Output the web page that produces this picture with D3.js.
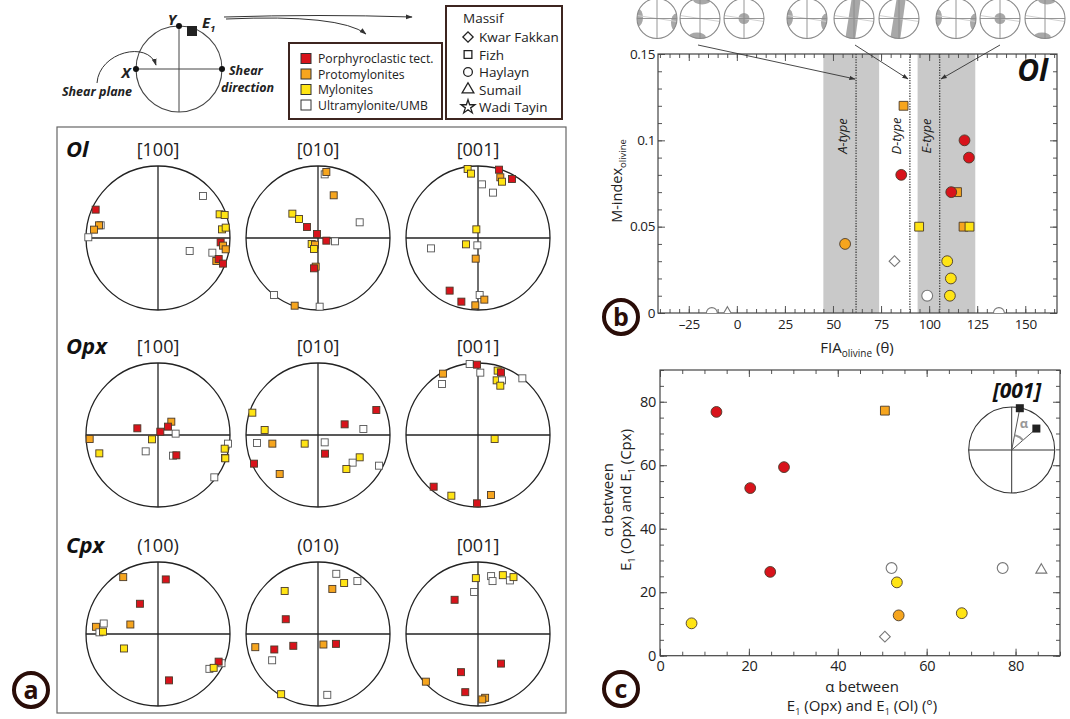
<!DOCTYPE html>
<html><head><meta charset="utf-8">
<script src="https://cdn.jsdelivr.net/npm/d3@7"></script>
<style>body{margin:0;background:#fff}svg{display:block;font-family:"Open Sans","Noto Sans",sans-serif}</style>
</head><body><svg id="fig" width="1070" height="719"></svg>
<script>
// ---------------- DATA ----------------
const textureLabels = ["Porphyroclastic tect.","Protomylonites","Mylonites","Ultramylonite/UMB"];
const textureKeys   = ["P","R","M","U"];
const textureColors = ["#d8131b","#f6a51e","#ffe414","#ffffff"];
const massifLabels  = ["Kwar Fakkan","Fizh","Haylayn","Sumail","Wadi Tayin"];
const massifShapes  = ["diamond","square","circle","triangle","star"];

const minerals = ["Ol","Opx","Cpx"];
const netTitles = [["[100]","[010]","[001]"],["[100]","[010]","[001]"],["(100)","(010)","[001]"]];

// pole figure maxima: [x, y (unit circle), texture]
const ol100 = [[0.625,0.583,"U"],[-0.866,0.394,"P"],[-0.796,0.176,"U"],[-0.819,0.176,"R"],[-0.889,0.116,"R"],[-0.968,0.01,"U"],
  [0.856,0.329,"M"],[0.926,0.319,"M"],[0.889,0.120,"M"],[0.940,0.144,"M"],[0.870,-0.060,"P"],[0.903,-0.106,"R"],[0.940,-0.157,"R"],
  [0.440,-0.181,"U"],[0.755,-0.204,"U"],[0.810,-0.319,"R"],[0.843,-0.292,"P"],[0.903,-0.356,"P"]];
const ol010 = [[0.093,0.884,"U"],[0.116,0.917,"R"],[0.218,0.593,"R"],[-0.356,0.338,"M"],[-0.264,0.264,"M"],[-0.153,0.153,"P"],
  [0.579,0.218,"U"],[-0.014,0.056,"P"],[0.116,-0.037,"P"],[0.236,-0.046,"U"],[-0.088,-0.083,"M"],[-0.042,-0.093,"R"],
  [-0.056,-0.153,"M"],[-0.032,-0.398,"R"],[-0.056,-0.421,"P"],[-0.611,-0.792,"U"],[-0.324,-0.940,"R"],[0.023,-0.954,"U"]];
const ol001 = [[-0.144,0.958,"M"],[-0.097,0.894,"M"],[0.292,0.949,"P"],[0.310,0.843,"R"],[0.333,0.782,"M"],[0.472,0.819,"P"],
  [0.056,0.745,"U"],[0.208,0.630,"U"],[-0.023,0.120,"M"],[-0.167,-0.088,"M"],[-0.009,-0.102,"U"],[-0.653,-0.144,"U"],
  [-0.032,-0.287,"R"],[-0.394,-0.731,"P"],[-0.231,-0.884,"P"],[0.023,-0.792,"U"],[0.088,-0.856,"R"],[-0.037,-0.935,"R"]];
const opx100 = [[0.185,0.185,"R"],[0.139,0.116,"P"],[-0.287,0.093,"P"],[0.032,0.046,"P"],[0.245,0.019,"U"],[-0.083,-0.060,"M"],
  [-0.949,-0.056,"R"],[-0.815,-0.255,"M"],[-0.171,-0.227,"U"],[0.208,-0.287,"U"],[0.255,-0.282,"P"],[0.972,-0.120,"U"],
  [0.926,-0.190,"M"],[0.930,-0.318,"R"],[0.935,-0.324,"M"],[0.782,-0.588,"U"]];
const opx010 = [[-0.912,0.310,"M"],[-0.741,0.069,"M"],[0.810,0.347,"P"],[0.370,0.148,"P"],[0.630,0.083,"U"],[-0.847,-0.111,"U"],
  [-0.634,-0.120,"R"],[-0.185,-0.120,"M"],[0.093,-0.102,"U"],[0.097,-0.259,"P"],[0.579,-0.310,"M"],[0.481,-0.384,"U"],
  [0.394,-0.472,"M"],[0.847,-0.426,"U"],[-0.889,-0.398,"P"],[-0.532,-0.542,"R"]];
const opx001 = [[-0.116,0.986,"U"],[-0.014,0.977,"P"],[0.032,0.866,"U"],[-0.486,0.852,"R"],[-0.500,0.708,"U"],[0.273,0.894,"M"],
  [0.319,0.870,"P"],[0.259,0.759,"M"],[0.333,0.759,"U"],[0.310,0.685,"M"],[0.616,0.787,"U"],[0.231,-0.056,"M"],
  [-0.616,-0.718,"P"],[-0.370,-0.843,"M"],[0.181,-0.833,"R"],[-0.014,-0.949,"P"]];
const cpx100 = [[-0.483,0.790,"R"],[0.108,0.758,"P"],[-0.251,0.420,"P"],[-0.384,0.132,"R"],[-0.754,0.146,"U"],[-0.862,0.100,"R"],
  [-0.813,0.023,"U"],[-0.764,0.032,"M"],[-0.473,-0.201,"M"],[0.882,-0.406,"U"],[0.842,-0.384,"P"],[0.714,-0.484,"U"],
  [0.773,-0.470,"M"],[0.153,-0.644,"P"]];
const cpx010 = [[0.254,0.836,"U"],[0.363,0.708,"M"],[0.547,0.735,"U"],[0.199,0.626,"R"],[-0.463,0.598,"M"],[-0.448,0.205,"P"],
  [-0.871,-0.183,"R"],[-0.607,-0.215,"P"],[-0.343,-0.164,"P"],[-0.637,-0.365,"U"],[0.075,-0.146,"R"],[0.249,-0.137,"P"],
  [-0.512,-0.836,"M"],[0.129,-0.845,"U"]];
const cpx001 = [[-0.030,0.776,"M"],[0.182,0.804,"U"],[0.202,0.735,"U"],[0.345,0.817,"M"],[0.443,0.744,"U"],[0.493,0.790,"M"],
  [-0.054,0.584,"U"],[-0.325,0.475,"P"],[0.320,-0.411,"P"],[-0.236,-0.530,"P"],[-0.724,-0.662,"R"],[-0.177,-0.808,"P"],
  [0.099,-0.886,"R"],[0.059,-0.909,"R"]];
const netData = [[ol100,ol010,ol001],[opx100,opx010,opx001],[cpx100,cpx010,cpx001]];

// panel b
const bFIA     = [56.3,85.5,86.7,82,94.8,99,109.4,111.3,110.8,114.5,111.5,118.4,120.7,117.9,121,-13,-4.9,136.3];
const bMindex  = [0.040,0.080,0.120,0.030,0.050,0.010,0.030,0.020,0.010,0.070,0.070,0.100,0.090,0.050,0.050,0,0,0];
const bTexture = ["R","P","R","U","M","U","M","M","M","R","P","P","P","R","M","U","U","U"];
const bMassif  = ["Haylayn","Haylayn","Fizh","Kwar Fakkan","Fizh","Haylayn","Haylayn","Haylayn","Haylayn","Fizh","Haylayn","Haylayn","Haylayn","Fizh","Fizh","Haylayn","Sumail","Haylayn"];
const fabricBands = [[45,74],[94,124]];
const fabricTypes = ["A-type","D-type","E-type"];
const fabricFIA   = [62,90,105.5];
const bXTicks = [-25,0,25,50,75,100,125,150];
const bYTicks = [0,0.05,0.1,0.15];

// panel c
const cOlOpx   = [7.1,12.7,20.3,27.9,24.8,50.6,52.1,53.3,53.7,50.6,67.9,77.1,85.8];
const cOpxCpx  = [10.2,76.8,52.8,59.4,26.4,77.2,27.6,23.1,12.7,6.0,13.4,27.6,27.0];
const cTexture = ["M","P","P","P","P","R","U","M","R","U","M","U","U"];
const cMassif  = ["Haylayn","Haylayn","Haylayn","Haylayn","Haylayn","Fizh","Haylayn","Haylayn","Haylayn","Kwar Fakkan","Haylayn","Haylayn","Sumail"];
const cTicks = [0,20,40,60,80];

// ---------------- DRAW ----------------
const svg = d3.select("#fig");
svg.append("rect").attr("width",1070).attr("height",719).attr("fill","#fff");
const defs = svg.append("defs");
defs.append("marker").attr("id","ah").attr("viewBox","0 0 10 10").attr("refX",9).attr("refY",5)
  .attr("markerWidth",7).attr("markerHeight",7).attr("orient","auto")
  .append("path").attr("d","M0,1.5 L10,5 L0,8.5 Z").attr("fill","#333");

const fillOf = k => textureColors[textureKeys.indexOf(k)];
function symPath(shape, size){
  const t = {diamond:d3.symbolSquare,square:d3.symbolSquare,circle:d3.symbolCircle,triangle:d3.symbolTriangle,star:d3.symbolStar}[shape];
  return d3.symbol(t, size)();
}
const shapeOf = m => massifShapes[massifLabels.indexOf(m)];
const symSize = {diamond:58,square:78,circle:92,triangle:52,star:70};

// ---- schematic ----
const sch = svg.append("g");
const scx=179, scy=69, sr=43;
sch.append("circle").attr("cx",scx).attr("cy",scy).attr("r",sr).attr("fill","none").attr("stroke","#444").attr("stroke-width",1.1);
sch.append("line").attr("x1",scx-sr).attr("x2",scx+sr).attr("y1",scy).attr("y2",scy).attr("stroke","#444");
sch.append("line").attr("x1",scx).attr("x2",scx).attr("y1",scy-sr).attr("y2",scy+sr).attr("stroke","#444");
[[scx-sr,scy],[scx,scy-sr],[scx+sr,scy]].forEach(p=>sch.append("circle").attr("cx",p[0]).attr("cy",p[1]).attr("r",3).attr("fill","#111"));
sch.append("rect").attr("x",187).attr("y",26).attr("width",10).attr("height",10).attr("fill","#222");
const it = (x,y,t,fs,anchor)=>sch.append("text").attr("x",x).attr("y",y).attr("font-size",fs).attr("font-weight","bold").attr("font-style","italic").attr("fill","#222").attr("text-anchor",anchor||"start").text(t);
it(172,25,"Y",15,"middle");
const e1 = it(202,28,"E",15); e1.append("tspan").attr("font-size",9).attr("dy",4).text("1");
it(126,78,"X",15,"middle");
it(97,96,"Shear plane",12.5,"middle");
it(229,75,"Shear",12.5);
it(221,92,"direction",12.5);
sch.append("path").attr("d","M97,83 C99,52 148,40 156,65").attr("fill","none").attr("stroke","#333").attr("marker-end","url(#ah)");
sch.append("path").attr("d","M224,17 Q320,14 412,17").attr("fill","none").attr("stroke","#333").attr("marker-end","url(#ah)");
sch.append("path").attr("d","M226,19 Q340,14 366,34").attr("fill","none").attr("stroke","#333").attr("marker-end","url(#ah)");

// ---- legends ----
const lg1 = svg.append("g");
lg1.append("rect").attr("x",289).attr("y",43).attr("width",153).attr("height",76).attr("fill","#fff").attr("stroke","#3d2520").attr("stroke-width",2);
textureLabels.forEach((t,i)=>{
  const y = 58.5 + i*15.5;
  lg1.append("rect").attr("x",301).attr("y",y-5).attr("width",10).attr("height",10).attr("fill",textureColors[i]).attr("stroke","#333").attr("stroke-width",1);
  lg1.append("text").attr("x",318).attr("y",y+4.5).attr("font-size",12.2).attr("fill","#222").text(t);
});
const lg2 = svg.append("g");
lg2.append("rect").attr("x",446).attr("y",6).attr("width",116).attr("height",113).attr("fill","#fff").attr("stroke","#3d2520").attr("stroke-width",2);
lg2.append("text").attr("x",463).attr("y",23).attr("font-size",13.5).attr("fill","#222").text("Massif");
massifLabels.forEach((t,i)=>{
  const y = 37 + i*17.5;
  lg2.append("path").attr("d",symPath(massifShapes[i], massifShapes[i]==="diamond"?52:60))
    .attr("transform",`translate(468,${y})`+(massifShapes[i]==="diamond"?" rotate(45)":""))
    .attr("fill","none").attr("stroke","#222").attr("stroke-width",1.3);
  lg2.append("text").attr("x",479).attr("y",y+5).attr("font-size",13.5).attr("fill","#222").text(t);
});

// ---- panel a ----
const pa = svg.append("g");
pa.append("rect").attr("x",57).attr("y",127).attr("width",509).attr("height",586).attr("fill","none").attr("stroke","#666").attr("stroke-width",1.2);
const netCX = [158,318,478], netCY = [238,435,634], netR = 72;
minerals.forEach((m,ri)=>{
  pa.append("text").attr("x",66).attr("y",netCY[ri]-81).attr("font-size",22).attr("font-weight","bold").attr("font-style","italic").attr("fill","#111").text(m);
  netTitles[ri].forEach((t,ci)=>{
    const cx = netCX[ci], cy = netCY[ri];
    pa.append("text").attr("x",cx).attr("y",cy-82).attr("text-anchor","middle").attr("font-size",18).attr("fill","#222").text(t);
    const sx = d3.scaleLinear().domain([-1,1]).range([cx-netR,cx+netR]);
    const sy = d3.scaleLinear().domain([-1,1]).range([cy+netR,cy-netR]);
    const g = pa.append("g");
    g.append("circle").attr("cx",cx).attr("cy",cy).attr("r",netR).attr("fill","none").attr("stroke","#222").attr("stroke-width",1.3);
    g.append("line").attr("x1",sx(-1)).attr("x2",sx(1)).attr("y1",sy(0)).attr("y2",sy(0)).attr("stroke","#222").attr("stroke-width",1.3);
    g.append("line").attr("x1",sx(0)).attr("x2",sx(0)).attr("y1",sy(-1)).attr("y2",sy(1)).attr("stroke","#222").attr("stroke-width",1.3);
    g.selectAll("rect.p").data(netData[ri][ci]).join("rect").attr("class","p")
      .attr("x",d=>sx(d[0])-3.5).attr("y",d=>sy(d[1])-3.5).attr("width",7).attr("height",7)
      .attr("fill",d=>fillOf(d[2])).attr("stroke",d=>d[2]==="U"?"#555":"#4a3a2a").attr("stroke-width",0.9);
  });
});

function badge(x,y,ch){
  const g = svg.append("g");
  g.append("circle").attr("cx",x).attr("cy",y).attr("r",17).attr("fill","#fff").attr("stroke","#2a0d08").attr("stroke-width",4);
  g.append("text").attr("x",x).attr("y",y+8.5).attr("text-anchor","middle").attr("font-size",25).attr("font-weight","bold").attr("fill","#2a0d08").text(ch);
}

// ---- axes frame helper ----
function frame(g, x, y, o){
  const [x0,x1] = x.range(), [y0,y1] = y.range();
  const add = (gen, tr, vals, size, fmt, pad) => {
    const a = g.append("g").attr("transform",tr)
      .call(gen.tickValues(vals).tickSize(size).tickPadding(pad||5).tickFormat(fmt || (()=>"")));
    a.select(".domain").remove();
    a.selectAll("line").attr("stroke","#555").attr("stroke-width",1);
    a.attr("font-family",null).attr("font-size",o.fs).attr("fill","#222").attr("letter-spacing",o.ls||0);
    a.selectAll("text").attr("fill","#222");
  };
  add(d3.axisBottom(x),`translate(0,${y0})`,o.xMinor,-4);
  add(d3.axisBottom(x),`translate(0,${y0})`,o.xMajor,-7,o.xFmt,o.xPad);
  add(d3.axisTop(x),`translate(0,${y1})`,o.xMinor,-4);
  add(d3.axisTop(x),`translate(0,${y1})`,o.xMajor,-7);
  add(d3.axisLeft(y),`translate(${x0},0)`,o.yMinor,-4);
  add(d3.axisLeft(y),`translate(${x0},0)`,o.yMajor,-7,o.yFmt,o.yPad);
  add(d3.axisRight(y),`translate(${x1},0)`,o.yMinor,-4);
  add(d3.axisRight(y),`translate(${x1},0)`,o.yMajor,-7);
  g.append("rect").attr("x",x0).attr("y",y1).attr("width",x1-x0).attr("height",y0-y1).attr("fill","none").attr("stroke","#444").attr("stroke-width",1.2);
}
function drawPoints(g, xs, ys, tex, mas){
  g.selectAll(null).data(xs.map((v,i)=>({x:v,y:ys[i],t:tex[i],s:shapeOf(mas[i])}))).join("path")
    .attr("d",d=>symPath(d.s,symSize[d.s]))
    .attr("transform",d=>`translate(${g.sx(d.x)},${g.sy(d.y)})`+(d.s==="diamond"?" rotate(45)":""))
    .attr("fill",d=>fillOf(d.t)).attr("stroke",d=>d.t==="U"?"#777":"#4a3a2a").attr("stroke-width",d=>d.t==="U"?1.1:0.9);
}

// ---- panel b ----
const bx = d3.scaleLinear().domain([-41,166.5]).range([658,1057]);
const by = d3.scaleLinear().domain([0,0.15]).range([313,54]);
const pb = svg.append("g");
// mini pole figures
const miniCx = [657,700,744,807,854,899,956,1000,1045], miniCy = 18.5, miniR = 20;
const miniPattern = ["ew","ns","c","ew","band","band","ew","c","ns"];
miniCx.forEach((cx,i)=>{
  const cid = "mc"+i;
  defs.append("clipPath").attr("id",cid).append("circle").attr("cx",cx).attr("cy",miniCy).attr("r",miniR);
  const g = pb.append("g");
  g.append("circle").attr("cx",cx).attr("cy",miniCy).attr("r",miniR).attr("fill","#fff");
  const gc = g.append("g").attr("clip-path",`url(#${cid})`);
  const gray = "#a8a8a8", p = miniPattern[i];
  if(p==="ew"){ gc.append("ellipse").attr("cx",cx-19).attr("cy",miniCy-1).attr("rx",5).attr("ry",9).attr("fill",gray);
                gc.append("ellipse").attr("cx",cx+19).attr("cy",miniCy+4).attr("rx",5).attr("ry",9).attr("fill",gray); }
  if(p==="ns"){ gc.append("ellipse").attr("cx",cx+2).attr("cy",miniCy-19).attr("rx",9).attr("ry",5).attr("fill",gray);
                gc.append("ellipse").attr("cx",cx-3).attr("cy",miniCy+19).attr("rx",9).attr("ry",5).attr("fill",gray); }
  if(p==="c"){ gc.append("circle").attr("cx",cx).attr("cy",miniCy).attr("r",5.5).attr("fill",gray); }
  if(p==="band"){ gc.append("path").attr("d",`M${cx-2},${miniCy-22}L${cx+7},${miniCy-22}L${cx+1},${miniCy+22}L${cx-9},${miniCy+22}Z`).attr("fill",gray); }
  gc.append("line").attr("x1",cx-20).attr("x2",cx+20).attr("y1",miniCy-3).attr("y2",miniCy+3).attr("stroke","#d0d0d0");
  g.append("line").attr("x1",cx-miniR).attr("x2",cx+miniR).attr("y1",miniCy).attr("y2",miniCy).attr("stroke","#8a8a8a").attr("stroke-width",0.9);
  g.append("line").attr("x1",cx).attr("x2",cx).attr("y1",miniCy-miniR).attr("y2",miniCy+miniR).attr("stroke","#8a8a8a").attr("stroke-width",0.9);
  g.append("circle").attr("cx",cx).attr("cy",miniCy).attr("r",miniR).attr("fill","none").attr("stroke","#8a8a8a").attr("stroke-width",1.1);
});
// bands
pb.selectAll("rect.band").data(fabricBands).join("rect").attr("class","band")
  .attr("x",d=>bx(d[0])).attr("width",d=>bx(d[1])-bx(d[0])).attr("y",by(0.15)).attr("height",by(0)-by(0.15)).attr("fill","#c9c9c9");
pb.selectAll("line.fab").data(fabricFIA).join("line").attr("class","fab")
  .attr("x1",d=>bx(d)).attr("x2",d=>bx(d)).attr("y1",by(0.15)).attr("y2",by(0))
  .attr("stroke","#333").attr("stroke-width",1.2).attr("stroke-dasharray","1.3,1.3");
fabricTypes.forEach((t,i)=>{
  const xx = bx(fabricFIA[i]) - 9;
  pb.append("text").attr("transform",`translate(${xx},${136}) rotate(-90)`).attr("text-anchor","middle")
    .attr("font-size",13).attr("font-style","italic").attr("fill","#222").text(t);
});
frame(pb, bx, by, {fs:13.5, ls:-0.4, xMajor:bXTicks, xMinor:d3.range(-40,166,5), yMajor:bYTicks, yMinor:d3.range(0,0.1501,0.01),
  xFmt:d=>d<0?"\u2013"+(-d):String(d), yFmt:d=>String(+d.toFixed(2)), xPad:6, yPad:3});
defs.append("clipPath").attr("id","clipb").append("rect").attr("x",658).attr("y",54).attr("width",399).attr("height",259);
const gbp = pb.append("g").attr("clip-path","url(#clipb)"); gbp.sx = bx; gbp.sy = by;
drawPoints(gbp, bFIA, bMindex, bTexture, bMassif);
pb.append("text").attr("x",1048).attr("y",81).attr("text-anchor","end").attr("font-size",30).attr("font-weight","bold").attr("font-style","italic").attr("fill","#111").text("Ol");
// arrows from pole figures
[[698,45,855,79],[855,45,908,79],[1000,45,941,79]].forEach(a=>
  pb.append("line").attr("x1",a[0]).attr("y1",a[1]).attr("x2",a[2]).attr("y2",a[3]).attr("stroke","#333").attr("stroke-width",0.9).attr("marker-end","url(#ah)"));
const ylb = pb.append("text").attr("transform","translate(622,181) rotate(-90)").attr("text-anchor","middle").attr("font-size",14.5).attr("fill","#222");
ylb.append("tspan").text("M-index");
ylb.append("tspan").attr("font-size",9.5).attr("dy",3.5).text("olivine");
const xlb = pb.append("text").attr("x",857).attr("y",353).attr("text-anchor","middle").attr("font-size",15).attr("fill","#222");
xlb.append("tspan").text("FIA");
xlb.append("tspan").attr("font-size",10).attr("dy",4).text("olivine");
xlb.append("tspan").attr("dy",-4).text(" (\u03b8)");
badge(621,317,"b");

// ---- panel c ----
const cx_ = d3.scaleLinear().domain([0,90]).range([660,1060]);
const cy_ = d3.scaleLinear().domain([0,90]).range([655.7,370]);
const pc = svg.append("g");
frame(pc, cx_, cy_, {fs:14.5, ls:-0.3, xMajor:cTicks, xMinor:d3.range(0,91,5), yMajor:cTicks, yMinor:d3.range(0,91,5),
  xFmt:d=>String(d), yFmt:d=>String(d), xPad:5, yPad:4});
// inset
const icx=1011.7, icy=450, ir=43;
pc.append("circle").attr("cx",icx).attr("cy",icy).attr("r",ir).attr("fill","#fff").attr("stroke","#333").attr("stroke-width",1.1);
pc.append("line").attr("x1",icx-ir).attr("x2",icx+ir).attr("y1",icy).attr("y2",icy).attr("stroke","#333");
pc.append("line").attr("x1",icx).attr("x2",icx).attr("y1",icy-ir).attr("y2",icy+ir).attr("stroke","#333");
const insetAng = [11,49], insetDist = [0.99,0.76];
insetAng.forEach((a,i)=>{
  const r = a*Math.PI/180, px = icx+Math.sin(r)*ir*insetDist[i], py = icy-Math.cos(r)*ir*insetDist[i];
  pc.append("line").attr("x1",icx).attr("y1",icy).attr("x2",px).attr("y2",py).attr("stroke","#555").attr("stroke-width",1);
  pc.append("rect").attr("x",px-4).attr("y",py-4).attr("width",8).attr("height",8).attr("fill","#222");
});
pc.append("path").attr("d",d3.arc()({innerRadius:15,outerRadius:15,startAngle:insetAng[0]*Math.PI/180,endAngle:insetAng[1]*Math.PI/180}))
  .attr("transform",`translate(${icx},${icy})`).attr("fill","none").attr("stroke","#999").attr("stroke-width",2.2);
pc.append("text").attr("x",1024).attr("y",428).attr("text-anchor","middle").attr("font-size",13).attr("font-weight","bold").attr("fill","#999").text("\u03b1");
pc.append("text").attr("x",1017).attr("y",398).attr("text-anchor","middle").attr("font-size",21).attr("font-weight","bold").attr("font-style","italic").attr("fill","#111").text("[001]");
const gcp = pc.append("g"); gcp.sx = cx_; gcp.sy = cy_;
drawPoints(gcp, cOlOpx, cOpxCpx, cTexture, cMassif);
// labels c
pc.append("text").attr("x",862).attr("y",692).attr("text-anchor","middle").attr("font-size",15).attr("fill","#222").text("\u03b1 between");
const cxl = pc.append("text").attr("x",862).attr("y",711).attr("text-anchor","middle").attr("font-size",15).attr("fill","#222");
cxl.append("tspan").text("E");
cxl.append("tspan").attr("font-size",9).attr("dy",4).text("1");
cxl.append("tspan").attr("dy",-4).text(" (Opx) and  E");
cxl.append("tspan").attr("font-size",9).attr("dy",4).text("1");
cxl.append("tspan").attr("dy",-4).text(" (Ol) (\u00b0)");
pc.append("text").attr("transform","translate(613,500) rotate(-90)").attr("text-anchor","middle").attr("font-size",15).attr("fill","#222").text("\u03b1 between");
const cyl = pc.append("text").attr("transform","translate(631,500) rotate(-90)").attr("text-anchor","middle").attr("font-size",15).attr("fill","#222");
cyl.append("tspan").text("E");
cyl.append("tspan").attr("font-size",9).attr("dy",4).text("1");
cyl.append("tspan").attr("dy",-4).text(" (Opx) and  E");
cyl.append("tspan").attr("font-size",9).attr("dy",4).text("1");
cyl.append("tspan").attr("dy",-4).text(" (Cpx)");
badge(621,689,"c");
badge(31,690,"a");
</script></body></html>
